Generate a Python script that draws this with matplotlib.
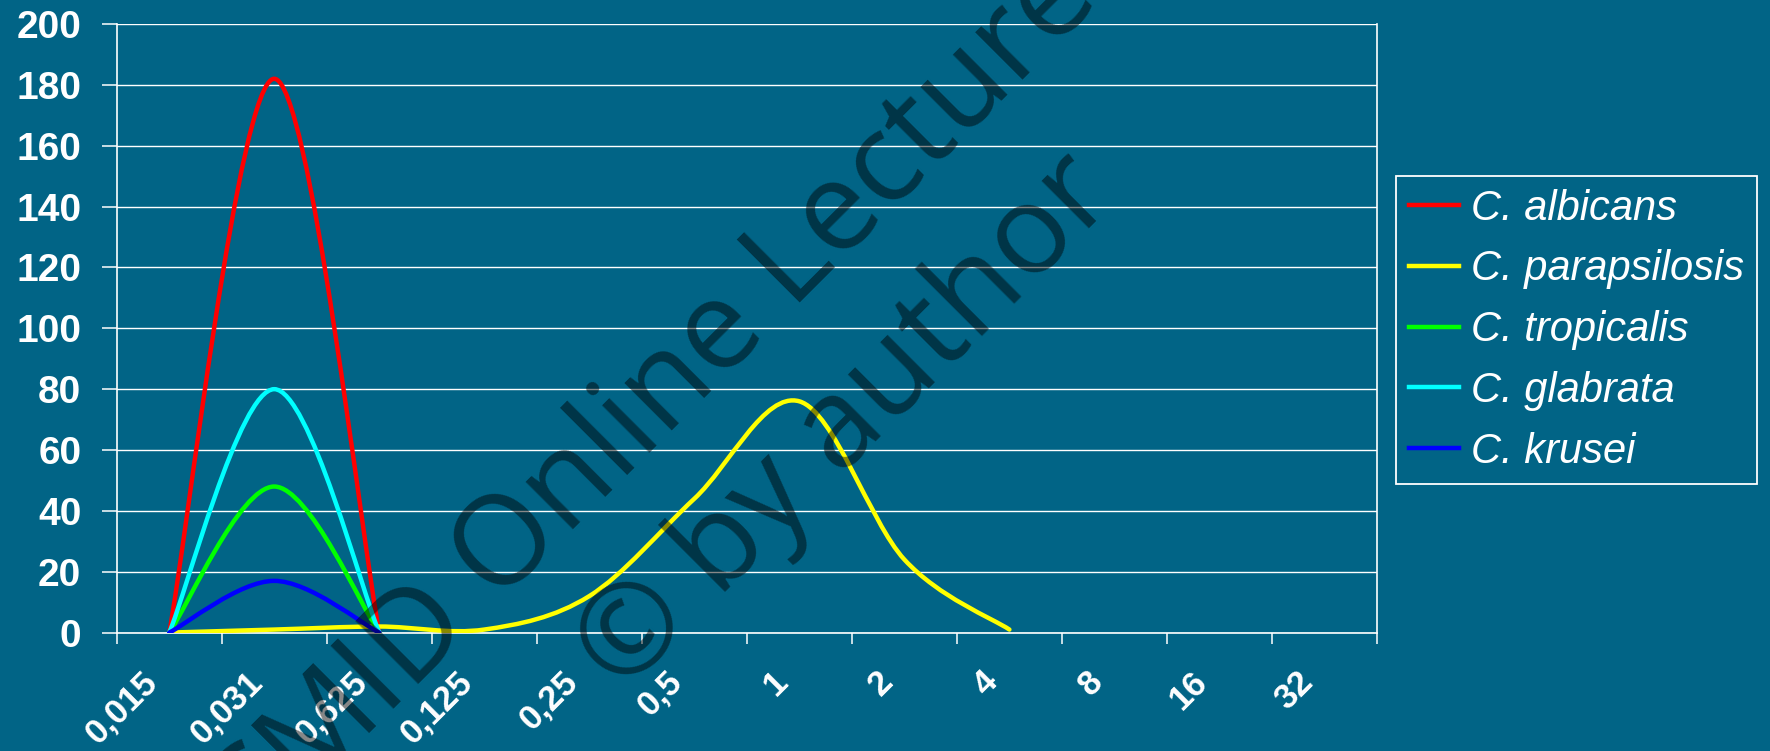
"""MIC distribution curves for five Candida species (smoothed line chart)."""
import numpy as np
import matplotlib
matplotlib.use('Agg')
import matplotlib.pyplot as plt
from matplotlib.path import Path
from matplotlib.patches import PathPatch
from matplotlib.lines import Line2D
from matplotlib.transforms import ScaledTranslation

BG = '#016486'
W, H = 1770, 751

categories = ['0,015', '0,031', '0,625', '0,125', '0,25', '0,5', '1', '2', '4', '8', '16', '32']
species = ['C. albicans', 'C. parapsilosis', 'C. tropicalis', 'C. glabrata', 'C. krusei']
colors = ['#ff0000', '#ffff00', '#00ff00', '#00ffff', '#0000ff']

albicans = [0, 182, 0]
parapsilosis = [0, 1, 2, 1, 12, 44, 76, 24, 1]
tropicalis = [0, 48, 0]
glabrata = [0, 80, 0]
krusei = [0, 17, 0]
series = [albicans, parapsilosis, tropicalis, glabrata, krusei]


def smooth_path(values):
    # cubic bezier through every point, tangents from neighbours (/6)
    pts = np.column_stack([np.arange(len(values)), values]).astype(float)
    n = len(pts)
    verts = [pts[0]]
    codes = [Path.MOVETO]
    for i in range(n - 1):
        p_prev = pts[max(i - 1, 0)]
        p0, p1 = pts[i], pts[i + 1]
        p_next = pts[min(i + 2, n - 1)]
        c1 = p0 + (p1 - p_prev) / 6
        c2 = p1 - (p_next - p0) / 6
        verts += [c1, c2, p1]
        codes += [Path.CURVE4] * 3
    return Path(verts, codes)


plt.rcParams['font.family'] = ['Liberation Sans', 'DejaVu Sans']

fig = plt.figure(figsize=(W / 100, H / 100), dpi=100, facecolor=BG)
ax = fig.add_axes([116.7 / W, 1 - 632.6 / H, (1377 - 116.7) / W, (632.6 - 24) / H])
ax.set_facecolor(BG)

for vals, col in zip(series, colors):
    ax.add_patch(PathPatch(smooth_path(vals), facecolor='none', edgecolor=col,
                           lw=3.2, capstyle='round', joinstyle='round', zorder=3))

ax.set_xlim(-0.5, len(categories) - 0.5)
ax.set_ylim(0, 200)
ax.set_yticks(np.arange(0, 201, 20))
ax.set_xticks(np.arange(-0.5, len(categories), 1.0))
ax.set_xticklabels([])
ax.grid(axis='y', color='white', lw=1.0, zorder=1)
ax.set_axisbelow(True)

ax.spines['top'].set_visible(False)
for s in ['left', 'bottom', 'right']:
    ax.spines[s].set_color('white')
    ax.spines[s].set_linewidth(1.2)

ax.tick_params(axis='y', colors='white', length=10.5, width=1.1, pad=15,
               labelsize=28)
ax.tick_params(axis='x', colors='white', length=7.7, width=1.1)
for lab in ax.get_yticklabels():
    lab.set_fontweight('bold')

# category labels, rotated and shifted left of the category centre
off = ScaledTranslation(-17 / 100, -44 / 100, fig.dpi_scale_trans)
for i, c in enumerate(categories):
    ax.text(i, 0, c, transform=ax.get_xaxis_transform() + off, rotation=45,
            rotation_mode='anchor', ha='right', va='center', fontsize=25,
            fontweight='bold', color='white', clip_on=False)

handles = [Line2D([], [], color=c, lw=3.2) for c in colors]
leg = ax.legend(handles, species, loc='upper left',
                bbox_to_anchor=(1396 / W, 1 - 176 / H), bbox_transform=fig.transFigure,
                borderaxespad=0, prop={'style': 'italic', 'size': 30},
                frameon=True, fancybox=False, facecolor=BG, edgecolor='white',
                framealpha=1, handlelength=1.2, handletextpad=0.31,
                borderpad=0.3, labelspacing=0.5)
leg.get_frame().set_linewidth(1.3)
for t in leg.get_texts():
    t.set_color('white')

# watermark
wm = dict(rotation=45, rotation_mode='anchor', ha='center', va='baseline',
          fontsize=90, family='Open Sans', color='black', alpha=0.47, zorder=20)
fig.text(676.3 / W, 1 - 426.7 / H, 'CMID Online Lecture', **wm)
fig.text(870.5 / W, 1 - 447.5 / H, '\u00a9 by author', **wm)

fig.savefig('out.png', dpi=100, facecolor=BG)
